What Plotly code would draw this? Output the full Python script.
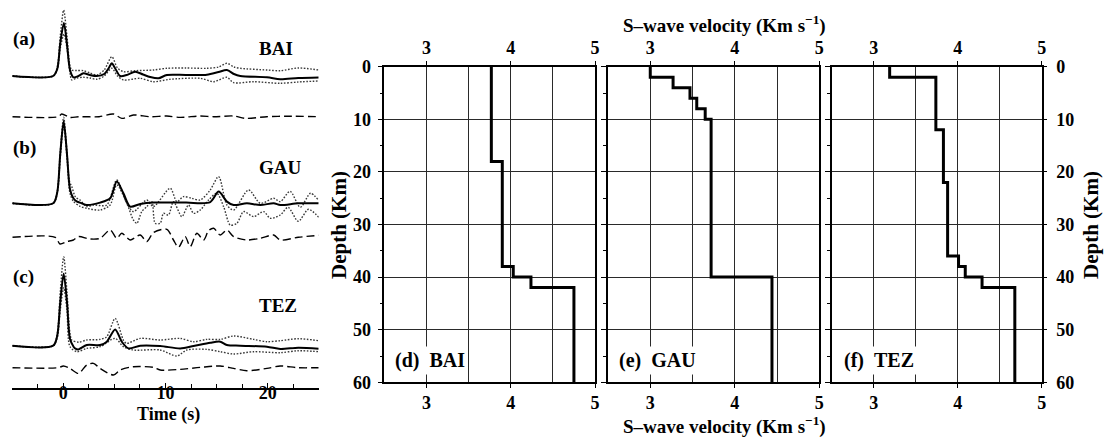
import plotly.graph_objects as go

# ---------------------------------------------------------------------------
# Receiver functions: (time in s, amplitude) samples.
# MODEL = synthetic from the final model, UP/LO = observed mean +/- 1 sd,
# RES = residual trace drawn underneath.
# ---------------------------------------------------------------------------
BAI_MODEL = [(-5, 0), (-1.0, 0), (-0.6, 7), (-0.3, 33), (0.05, 53), (0.35, 32), (0.65, 6),
             (0.98, -1.3), (1.47, 0), (1.96, 2.7), (2.6, 1), (3.27, 0), (4.0, 2), (4.45, 8),
             (4.74, 12.7), (5.05, 8), (5.56, 0), (6.2, 1), (7.03, 4.3), (7.8, 1.5), (8.5, -1),
             (9.31, -2.3), (10.13, 1), (12.0, 1), (14.05, 1.2), (15.2, 4), (16.01, 6), (16.7, 2),
             (17.32, 0), (19.93, -1.3), (21.24, -3.3), (23.0, -2), (25.0, -1.5)]
BAI_UP = [(-5, 0), (-1.0, 0), (-0.6, 9), (-0.3, 40), (0.03, 66), (0.35, 40), (0.65, 10),
          (0.82, 6), (1.3, 5.5), (1.96, 5.3), (2.6, 3), (3.27, 1), (4.0, 6), (4.74, 19.3),
          (5.3, 8), (5.88, 4.3), (7.03, 5.3), (8.82, 6), (10.13, 7.7), (12.0, 8), (14.05, 7.7),
          (15.2, 9), (16.01, 12.7), (16.7, 9), (17.32, 7.7), (19.93, 6), (21.24, 5.3),
          (23.0, 8), (25.0, 6)]
BAI_LO = [(-5, 0), (-1.0, 0), (-0.6, 6), (-0.3, 28), (0.06, 42), (0.35, 28), (0.65, 3),
          (0.82, -4), (1.3, -2), (1.96, -1.3), (2.6, -2), (3.27, -3.3), (4.0, 0), (4.74, 7.7),
          (5.3, 0), (5.88, -4), (7.52, -2.3), (8.82, -5.7), (10.46, -3.3), (13.4, -2.3),
          (14.71, -5.7), (16.01, -1.3), (16.67, -6.7), (18.62, -5.7), (21.24, -7.3),
          (23.0, -6), (25.0, -5)]
BAI_RES = [(-5, 0), (-0.5, 0), (-0.16, 2.7), (0.65, -0.7), (1.5, 0), (3.5, 0), (4.9, 2.7),
           (5.72, -1.7), (6.86, 1.7), (8.5, 0), (10.13, 0.7), (11.44, -0.7), (13.4, 0.7),
           (14.71, 0), (16.67, 0.7), (17.81, -1.7), (19.93, 0), (22.0, 0.5), (25.0, 0)]

GAU_MODEL = [(-5, 0), (-1.0, 0), (-0.6, 11), (-0.3, 50), (0.03, 82), (0.35, 50), (0.65, 14),
             (0.98, 5), (1.3, 2), (1.8, 0), (2.29, -1.7), (3.6, 0.7), (4.58, 5), (5.23, 21.7),
             (5.88, 10), (6.54, -3.3), (7.52, -0.7), (8.82, 0.7), (12.0, 0.7), (14.38, 1.2),
             (15.2, 11.7), (16.01, 1.7), (16.67, -1.7), (17.97, 0), (19.28, -1.7), (20.59, 0),
             (21.24, -1.7), (23.0, 0), (25.0, 0)]
GAU_UP = [(-5, 0), (-1.0, 0), (-0.6, 12), (-0.3, 52), (0.03, 86), (0.35, 52), (0.6, 22),
          (0.82, 16.7), (1.2, 6), (1.63, 3.3), (2.29, -3.3), (2.94, -1.7), (4.25, -1.7),
          (5.23, 23.3), (6.21, 0), (6.86, -8.3), (8.17, 3.3), (8.82, -3.3), (10.46, 15),
          (11.11, 1.7), (11.76, 6.7), (12.58, 5), (13.4, 3.3), (14.38, 13.3), (15.2, 26.7),
          (16.01, -1.7), (16.67, -6.7), (18.14, 13.3), (19.28, 0), (20.59, 5), (21.24, 1.7),
          (22.2, 12), (23.2, -4), (24.2, 10), (25.0, 3)]
GAU_LO = [(-5, 0), (-1.0, 0), (-0.6, 10), (-0.3, 46), (0.03, 78), (0.35, 46), (0.65, 10),
          (0.98, 2), (1.63, -3), (2.29, -5), (3.6, -6.7), (4.58, -1.7), (5.23, 18.3),
          (6.21, 0), (6.86, -16.7), (7.19, -20), (7.68, -8.3), (8.17, -3.3), (8.66, 1.7),
          (8.99, -20), (9.48, -20), (9.8, -10), (10.29, -11.7), (10.78, 1.7), (11.6, -13.3),
          (12.25, -1.7), (12.75, -10), (13.4, -6.7), (14.22, 3.3), (15.03, 10), (15.69, -3.3),
          (16.34, -21.7), (16.99, -20), (17.65, -8.3), (18.62, -13.3), (19.61, -8.3),
          (20.26, -15), (21.24, -11.7), (22.0, -4), (23.0, -18), (24.0, -6), (25.0, -14)]
GAU_RES = [(-5, 0), (-0.8, 0), (-0.33, -6.7), (0.33, -4.3), (0.98, -2.7), (1.47, 0.7),
           (2.61, -1.7), (3.6, -1), (4.58, 7.3), (5.23, -1), (5.72, 4), (6.54, -2.7),
           (7.52, 2.3), (8.17, -4.3), (8.82, 4.7), (10.13, 8), (10.78, -2.7), (11.27, -10),
           (11.93, 0.7), (12.42, -9.3), (13.07, 4), (13.73, -2.7), (14.22, 6.7), (14.71, 9),
           (15.36, 2.3), (16.01, 7.3), (16.67, 0.7), (17.97, -2.7), (19.28, -1), (20.59, 2.3),
           (21.24, -2.7), (23.0, 0), (25.0, 2)]

TEZ_MODEL = [(-5, 0), (-1.0, 0), (-0.6, 10), (-0.3, 44), (0.03, 72), (0.35, 44), (0.65, 6.7),
             (1.0, -1), (1.15, -2.7), (1.47, -3.7), (2.29, 0.7), (3.6, 0.7), (4.25, 4),
             (5.07, 16.3), (5.72, 4), (6.37, -2.7), (7.52, 0), (9.48, -0.3), (11.44, -2.7),
             (12.75, -0.3), (14.38, 3), (15.36, 4), (16.01, 0.7), (17.32, 0), (19.93, -1),
             (21.24, -3.3), (23.0, -2), (25.0, -3)]
TEZ_UP = [(-5, 0), (-1.0, 0), (-0.6, 12), (-0.3, 54), (0.03, 89), (0.35, 54), (0.65, 12),
          (0.82, 5.7), (1.5, 3.5), (2.29, 5.7), (3.6, 6.3), (4.25, 9), (5.07, 27.3), (5.9, 5),
          (6.21, 2.3), (7.52, 7.3), (9.48, 5.7), (11.44, 7.3), (12.75, 4), (14.05, 6.3),
          (15.36, 6.3), (16.67, 9.7), (18.62, 6.3), (19.93, 4), (21.24, 5), (23.0, 7), (25.0, 5)]
TEZ_LO = [(-5, 0), (-1.0, 0), (-0.6, 8), (-0.3, 36), (0.03, 58), (0.35, 36), (0.65, -1),
          (1.31, -6), (2.29, -2.7), (3.6, -1), (5.07, 7.3), (5.88, -1), (6.86, -4.3),
          (9.48, -4.3), (11.11, -10.3), (12.09, -4.3), (14.05, -3.7), (15.36, -6),
          (16.67, -8.3), (18.62, -6), (21.24, -7), (23.0, -5), (25.0, -6)]
TEZ_RES = [(-5, 0), (-0.5, 0), (0.0, 1.7), (0.65, -0.7), (1.47, -5.7), (2.29, 2.7),
           (2.94, 4.3), (3.6, -0.7), (4.9, -7.3), (5.56, -2.3), (6.86, 1), (8.82, 0.3),
           (9.48, -2.3), (11.44, -1.7), (13.4, 0.3), (15.36, 1.7), (16.67, -0.7), (17.97, -3),
           (19.93, -0.7), (21.24, 1.7), (23.0, 0), (25.0, 0)]

STATIONS = ["BAI", "GAU", "TEZ"]
RF_LETTERS = ["(a)", "(b)", "(c)"]

# ---------------------------------------------------------------------------
# Layered S-wave velocity models: layer top depth (km) and Vs (km/s)
# ---------------------------------------------------------------------------
BAI_TOPS = [0, 18, 38, 40, 42]
BAI_VS = [3.77, 3.90, 4.03, 4.24, 4.75]
GAU_TOPS = [0, 2, 4, 6, 8, 10, 40]
GAU_VS = [3.00, 3.27, 3.47, 3.55, 3.65, 3.72, 4.44]
TEZ_TOPS = [0, 2, 12, 22, 36, 38, 40, 42]
TEZ_VS = [3.19, 3.74, 3.83, 3.88, 4.01, 4.09, 4.29, 4.68]
MAX_DEPTH = 60
MODEL_LETTERS = ["(d)", "(e)", "(f)"]

TIME_TICKS = [0, 10, 20]
VEL_TICKS = [3, 4, 5]
DEPTH_TICKS = [0, 10, 20, 30, 40, 50, 60]

# ---------------------------------------------------------------------------
# Page geometry helpers (pixel -> paper fraction)
# ---------------------------------------------------------------------------
W, H = 1104, 437
def px(x):
    return x / W
def py(y):
    return 1 - y / H

FONT = "Liberation Serif"
BOLD = dict(family=FONT, size=18, color="black", weight="bold")

def bold_labels(vals):
    return [f"<b>{v}</b>" for v in vals]

fig = go.Figure()

# ---- left panel: stacked receiver functions ------------------------------
RF_TOP = 0.0
RF_BOTTOM = 387.7
BASE_PX = {"BAI": 76.0, "GAU": 203.3, "TEZ": 345.7}
RES_PX = {"BAI": 116.7, "GAU": 237.3, "TEZ": 367.7}
rf_sets = {
    "BAI": (BAI_MODEL, BAI_UP, BAI_LO, BAI_RES),
    "GAU": (GAU_MODEL, GAU_UP, GAU_LO, GAU_RES),
    "TEZ": (TEZ_MODEL, TEZ_UP, TEZ_LO, TEZ_RES),
}

def shifted(samples, offset):
    t = [s[0] for s in samples]
    a = [offset + s[1] for s in samples]
    return t, a

for st in STATIONS:
    model, up, lo, res = rf_sets[st]
    base = RF_BOTTOM - BASE_PX[st]
    rbase = RF_BOTTOM - RES_PX[st]
    for curve in (up, lo):
        t, a = shifted(curve, base)
        fig.add_trace(go.Scatter(x=t, y=a, mode="lines", xaxis="x", yaxis="y",
                                 line=dict(color="#383838", width=1.4, dash="1.6px,1.6px",
                                           shape="spline", smoothing=0.8),
                                 hoverinfo="skip", showlegend=False))
    t, a = shifted(model, base)
    fig.add_trace(go.Scatter(x=t, y=a, mode="lines", xaxis="x", yaxis="y",
                             line=dict(color="black", width=2, shape="spline", smoothing=0.8),
                             hoverinfo="skip", showlegend=False))
    t, a = shifted(res, rbase)
    fig.add_trace(go.Scatter(x=t, y=a, mode="lines", xaxis="x", yaxis="y",
                             line=dict(color="black", width=1.4, dash="8px,4px",
                                       shape="spline", smoothing=0.8),
                             hoverinfo="skip", showlegend=False))

# ---- right panels: velocity-depth profiles -------------------------------
def step_profile(tops, vs, bottom):
    xs, ys = [], []
    for i, v in enumerate(vs):
        lower = tops[i + 1] if i + 1 < len(tops) else bottom
        xs += [v, v]
        ys += [tops[i], lower]
    return xs, ys

models = [(BAI_TOPS, BAI_VS), (GAU_TOPS, GAU_VS), (TEZ_TOPS, TEZ_VS)]
panel_x = [(384.3, 595.0), (608.0, 819.3), (831.7, 1041.7)]
PANEL_TOP, PANEL_BOTTOM = 66.7, 382.3

for i, (tops, vs) in enumerate(models):
    xs, ys = step_profile(tops, vs, MAX_DEPTH)
    fig.add_trace(go.Scatter(x=xs, y=ys, mode="lines",
                             xaxis=f"x{i + 2}", yaxis=f"y{i + 2}",
                             line=dict(color="black", width=3),
                             hoverinfo="skip", showlegend=False))

layout = dict(
    width=W, height=H,
    margin=dict(l=0, r=0, t=0, b=0, autoexpand=False),
    paper_bgcolor="white", plot_bgcolor="white",
    font=BOLD,
    showlegend=False,
)

# time axis of the receiver-function panel
layout["xaxis"] = dict(
    domain=[px(12.3), px(318.7)], range=[-5, 25], anchor="y", automargin=False,
    tickvals=TIME_TICKS, ticktext=bold_labels(TIME_TICKS),
    ticks="inside", ticklen=5, tickwidth=1.2, tickcolor="black",
    minor=dict(dtick=2.5, tick0=0, ticks="inside", ticklen=4, tickwidth=1.2, tickcolor="black"),
    showline=True, linecolor="black", linewidth=1.5,
    showgrid=False, zeroline=False, tickfont=BOLD, fixedrange=True, ticklabelstandoff=-12,
)
layout["yaxis"] = dict(
    domain=[py(RF_BOTTOM), py(RF_TOP)], range=[0, RF_BOTTOM - RF_TOP], anchor="x",
    visible=False, fixedrange=True, automargin=False,
)

GRID = "#2a2a2a"
for i, (x0, x1) in enumerate(panel_x):
    xa, ya = i + 2, i + 2
    top_id = i + 5
    layout[f"xaxis{xa}"] = dict(
        domain=[px(x0), px(x1)], range=[2.5, 5], anchor=f"y{ya}", side="bottom",
        automargin=False,
        tickvals=VEL_TICKS, ticktext=bold_labels(VEL_TICKS),
        ticks="outside", ticklen=4, tickwidth=1.2, tickcolor="black",
        showline=True, linecolor="black", linewidth=1.5,
        showgrid=True, gridcolor=GRID, gridwidth=1,
        minor=dict(dtick=0.5, tick0=2.5, showgrid=True, gridcolor=GRID, gridwidth=1, ticks=""),
        zeroline=False, tickfont=BOLD, fixedrange=True, ticklabelstandoff=-1,
    )
    layout[f"xaxis{top_id}"] = dict(
        domain=[px(x0), px(x1)], range=[2.5, 5], anchor=f"y{ya}", side="top",
        overlaying=f"x{xa}", automargin=False,
        tickvals=VEL_TICKS, ticktext=bold_labels(VEL_TICKS),
        ticks="outside", ticklen=4, tickwidth=1.2, tickcolor="black",
        showline=True, linecolor="black", linewidth=1.5,
        showgrid=False, zeroline=False, tickfont=BOLD, fixedrange=True, ticklabelstandoff=0,
    )
    layout[f"yaxis{ya}"] = dict(
        domain=[py(PANEL_BOTTOM), py(PANEL_TOP)], range=[MAX_DEPTH, 0], anchor=f"x{xa}",
        side="left", automargin=False,
        tickvals=DEPTH_TICKS, ticktext=bold_labels(DEPTH_TICKS),
        ticks="outside", ticklen=5, tickwidth=1.2, tickcolor="black",
        minor=dict(dtick=5, tick0=0, ticks="outside", ticklen=3, tickwidth=1.2,
                   tickcolor="black", showgrid=False),
        showline=True, linecolor="black", linewidth=1.5, mirror=True,
        showgrid=True, gridcolor=GRID, gridwidth=1,
        showticklabels=(i == 0), zeroline=False, tickfont=BOLD, fixedrange=True,
        ticklabelstandoff=3,
    )
    # invisible anchor trace so the top axis is laid out
    fig.add_trace(go.Scatter(x=[2.5], y=[0], xaxis=f"x{top_id}", yaxis=f"y{ya}",
                             mode="markers", marker=dict(opacity=0), hoverinfo="skip",
                             showlegend=False))

# depth labels on the right of the last panel
layout["yaxis8"] = dict(
    domain=[py(PANEL_BOTTOM), py(PANEL_TOP)], range=[MAX_DEPTH, 0], anchor="x4",
    overlaying="y4", side="right", automargin=False,
    tickvals=DEPTH_TICKS, ticktext=bold_labels(DEPTH_TICKS),
    ticks="outside", ticklen=4, tickwidth=1.2, tickcolor="black",
    showline=False, showgrid=False, zeroline=False,
    tickfont=BOLD, fixedrange=True, ticklabelstandoff=6,
)
fig.add_trace(go.Scatter(x=[2.5], y=[0], xaxis="x4", yaxis="y8", mode="markers",
                         marker=dict(opacity=0), hoverinfo="skip", showlegend=False))

fig.update_layout(**layout)

# ---- text --------------------------------------------------------------
def note(text, x, y, size=18, xanchor="center", yanchor="middle", angle=0, bg=None):
    fig.add_annotation(text=text, x=px(x), y=py(y), xref="paper", yref="paper",
                       showarrow=False, xanchor=xanchor, yanchor=yanchor, textangle=angle,
                       font=dict(family=FONT, size=size, color="black", weight="bold"),
                       bgcolor=bg, borderpad=2)

rf_letter_y = [39, 148, 277]
rf_name_y = [48.5, 167, 305]
for letter, name, ly, ny in zip(RF_LETTERS, STATIONS, rf_letter_y, rf_name_y):
    note(f"<b>{letter}</b>", 10, ly, size=19, xanchor="left")
    note(f"<b>{name}</b>", 256, ny, size=19, xanchor="left")

note("<b>Time (s)</b>", 168, 414.5, size=18)

vel_title = "<b>S\u2013wave velocity (Km s<sup>\u22121</sup>)</b>"
note(vel_title, 724, 24, size=19)
note(vel_title, 724, 425, size=19)

note("<b>Depth (Km)</b>", 339, 225, size=21, angle=-90)
note("<b>Depth (Km)</b>", 1091, 225, size=21, angle=-90)

label_x = [392, 615.5, 841]
for letter, name, lx in zip(MODEL_LETTERS, STATIONS, label_x):
    note(f"<b>{letter}\u2002{name}</b>", lx, 360, size=20, xanchor="left", bg="white")

fig.write_html("out.html")
